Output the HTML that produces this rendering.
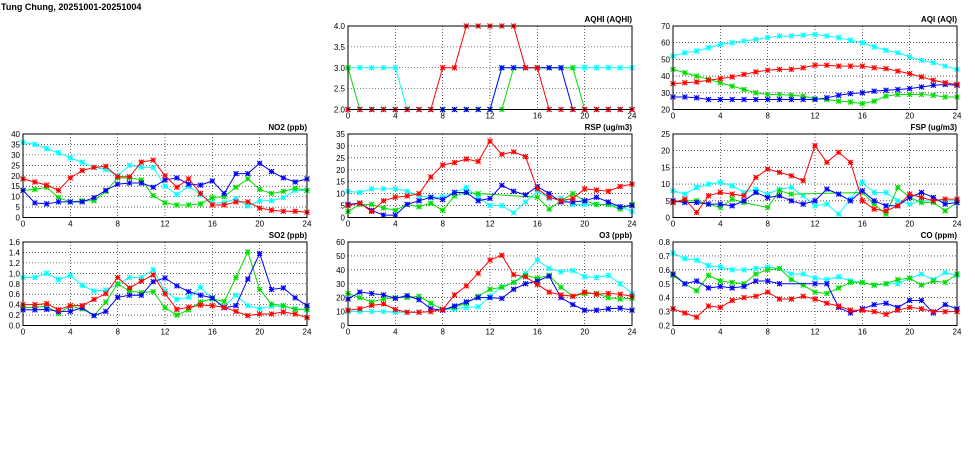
<!DOCTYPE html>
<html><head><meta charset="utf-8"><style>
body{margin:0;background:#fff;width:975px;height:447px;overflow:hidden;font-family:"Liberation Mono",monospace}
svg text{font-family:"Liberation Sans",sans-serif;font-size:8px;fill:#000}
</style></head><body>
<svg id="c" width="975" height="447">
<text x="1" y="10" style="font-size:9px;font-weight:bold">Tung Chung, 20251001-20251004</text>
</svg>
<script>
const xTicks = [0,4,8,12,16,20,24];
const seriesColors = ['#00ffff','#00dd00','#0000ff','#ff0000'];
const panelTitles = ['AQHI (AQHI)','AQI (AQI)','NO2 (ppb)','RSP (ug/m3)','FSP (ug/m3)','SO2 (ppb)','O3 (ppb)','CO (ppm)'];
const yTicksAQHI = ['2.0','2.5','3.0','3.5','4.0'];
const yTicksAQI = ['20','30','40','50','60','70'];
const yTicksNO2 = ['0','5','10','15','20','25','30','35','40'];
const yTicksRSP = ['0','5','10','15','20','25','30','35'];
const yTicksFSP = ['0','5','10','15','20','25'];
const yTicksSO2 = ['0.0','0.2','0.4','0.6','0.8','1.0','1.2','1.4','1.6'];
const yTicksO3 = ['0','10','20','30','40','50','60'];
const yTicksCO = ['0.2','0.3','0.4','0.5','0.6','0.7','0.8'];
// series order: cyan, green, blue, red
const aqhiCyan=[3,3,3,3,3,2,2,2,2,2,2,2,2,3,3,3,3,3,3,3,3,3,3,3,3];
const aqhiGreen=[3,2,2,2,2,2,2,2,2,2,2,2,2,2,3,3,3,3,3,3,2,2,2,2,2];
const aqhiBlue=[2,2,2,2,2,2,2,2,2,2,2,2,2,3,3,3,3,3,3,2,2,2,2,2,2];
const aqhiRed=[2,2,2,2,2,2,2,2,3,3,4,4,4,4,4,3,3,2,2,2,2,2,2,2,2];
const aqiCyan=[52,54,55,57,59,60,61,62,63,64,64,64.5,65,64,63,61.5,60,57.5,55.5,54,51.5,49.5,48,46,44];
const aqiGreen=[44,42,40,38,36,34,32,30,29,29,28.5,28,26.5,26,25,24.5,23.5,25,28,29,29,29,28.5,27.5,27.5];
const aqiBlue=[27.5,27.5,27,26,26,26,26,26,26,26,26,26,26,27,28.5,29.5,30,31,31.5,32,32.5,33.5,34.5,35,34.5];
const aqiRed=[35.5,36,36.5,37.5,38.5,39.5,41,42.5,43.5,44,44,45,46.5,46.5,46,46,46,45,44.5,43,41.5,39.5,37.5,36,35];
const no2Cyan=[36,35,33,31,28.5,26.5,24,23,20,25,24,24,15,11,15,11,7,7,9,5.5,8,8,9.5,13,13];
const no2Green=[13,13.5,14.5,9.5,7.5,8,8,12.5,19,19,18,10.5,7,6,6,6.5,9.5,10,14.5,18.5,13.5,11.5,12.5,14,13];
const no2Blue=[13,7,6.5,7.5,7.5,7.5,9.5,13,16,16.5,16.5,14.5,18,19,16,15.5,17.5,11.5,21,21,26,22,19,17,18.5];
const no2Red=[18.5,17,15.5,13,19,22.5,24,24.5,19.5,19.5,26.5,27.5,20,14.5,18.5,11.5,6,6,7.5,7.5,4.5,3.5,3,3,2.5];
const rspCyan=[11,10.5,12,12,12,11,9,8.5,8.5,10.5,12.5,8.5,5,5,2,6.5,11,8,8,5.5,5.5,5.5,5.5,4.5,2.5];
const rspGreen=[2.5,5.5,5.5,4,3,5.5,4.5,6,3,9,10.5,10,null,null,null,null,8.5,3.5,7,10,7,5.5,5.5,3.5,5.5];
const rspBlue=[5.5,6,3,1,1,5.5,7,8.5,7.5,10.5,10.5,7,8,13.5,11,9.5,13,10,6.5,6.5,7,8.5,6.5,4.5,5];
const rspRed=[5,6,2.5,7,8.5,9,10,17,22,23,24.5,23.5,32,26.5,27.5,25.5,12,8.5,7,8,12,11.5,11,13,14];
const fspCyan=[8,7,9,10,10.5,9.5,7.5,8.5,7,8.5,9,6.5,3.5,4,1,5.5,10.5,7.5,7.5,5,4,5,5,5,5];
const fspGreen=[4.5,5,5,4,3,5.5,4.5,null,3,8,7,null,null,null,null,null,7.5,4,1,9,6,4.5,4.5,2,4.5];
const fspBlue=[5,4.5,4.5,4,4,3.5,5,7.5,6,6.5,5,4,5,8.5,7,5,8,5,3.5,3.5,6,7.5,6,4,4.5];
const fspRed=[4.5,5.5,1.5,6.5,7.5,7,6.5,12,14.5,13.5,12.5,11,21.5,16.5,19.5,16.5,5,2.5,2,3.5,7,6,5,5.5,5.5];
const so2Cyan=[.92,.92,1.0,.88,.96,.77,.66,.68,.79,.92,.92,1.07,.66,.50,.54,.73,.51,.37,.58,.38,.32,.37,.37,.32,.30];
const so2Green=[.34,.35,.37,.23,.37,.32,.19,.45,.80,.66,.63,.65,.34,.20,.30,.45,.51,.46,.92,1.41,.69,.41,.38,.31,.31];
const so2Blue=[.30,.30,.31,.27,.27,.34,.19,.27,.54,.58,.58,.84,.91,.76,.65,.58,.53,.34,.38,.89,1.38,.69,.72,.53,.38];
const so2Red=[.40,.40,.42,.30,.38,.38,.50,.61,.92,.72,.85,.97,.61,.31,.35,.39,.38,.35,.27,.19,.22,.22,.26,.22,.15];
const o3Cyan=[10,10,10,10,9.5,9.5,9.5,10,11.5,12,13,13.5,21,28,31,37.5,47,41,38.5,39.5,35,34.5,36,30,23];
const o3Green=[23,20,17,19,20,20,21,16,11.5,13,16,21,26,27.5,31,36,34,36,27.5,21,23,23,20,19,19.5];
const o3Blue=[19,24,23,22,19.5,21.5,18.5,12,11,14,17,20,20,19.5,26,30,32,35.5,20,15,11,11,12,12.5,11];
const o3Red=[11,12,14.5,15.5,11.5,9.5,9.5,10,11.5,22,28.5,37.5,47,50.5,36.5,35,29.5,24,22,21,24,22.5,23,22.5,21];
const coCyan=[.72,.68,.67,.63,.62,.60,.60,.61,.62,.61,.57,.57,.54,.53,.55,.52,.51,.49,.50,.50,.54,.57,.53,.58,.56];
const coGreen=[.56,.50,.45,.56,.52,.51,.50,.57,.60,.61,.53,.49,.44,.43,.47,.51,.51,.49,.50,.53,.54,.49,.52,.51,.57];
const coBlue=[.57,.50,.52,.47,.48,.47,.48,.52,.52,.50,null,null,.50,.50,.33,.29,.32,.35,.36,.33,.38,.38,.29,.35,.32];
const coRed=[.32,.29,.26,.34,.33,.38,.40,.41,.44,.39,.39,.41,.39,.36,.34,.31,.31,.30,.28,.31,.33,.32,.30,.30,.30];

const NS='http://www.w3.org/2000/svg';
const svg=document.getElementById('c');
function mk(tag,attrs,parent){const e=document.createElementNS(NS,tag);for(const k in attrs)e.setAttribute(k,attrs[k]);(parent||svg).appendChild(e);return e;}
const colX=[348,673,23,348,673,23,348,673];
const rowY=[26,26,134,134,134,242,242,242];
const W=284,H=83.5;
const panels=[
 [yTicksAQHI,[aqhiCyan,aqhiGreen,aqhiBlue,aqhiRed]],
 [yTicksAQI,[aqiCyan,aqiGreen,aqiBlue,aqiRed]],
 [yTicksNO2,[no2Cyan,no2Green,no2Blue,no2Red]],
 [yTicksRSP,[rspCyan,rspGreen,rspBlue,rspRed]],
 [yTicksFSP,[fspCyan,fspGreen,fspBlue,fspRed]],
 [yTicksSO2,[so2Cyan,so2Green,so2Blue,so2Red]],
 [yTicksO3,[o3Cyan,o3Green,o3Blue,o3Red]],
 [yTicksCO,[coCyan,coGreen,coBlue,coRed]]
];
panels.forEach((p,pi)=>{
 const yt=p[0],series=p[1];
 const L=colX[pi],T=rowY[pi];
 const ymin=parseFloat(yt[0]),ymax=parseFloat(yt[yt.length-1]);
 const xs=v=>L+v/24*W;
 const ys=v=>T+H-(v-ymin)/(ymax-ymin)*H;
 const g=mk('g',{});
 
 
 const t=mk('text',{x:L+W,y:T-4,'text-anchor':'end','font-weight':'bold'},g);
 t.textContent=panelTitles[pi];
 
 
 yt.forEach(s=>{const v=parseFloat(s),y=ys(v);
  if(v>ymin&&v<ymax){const l=mk('line',{x1:L,x2:L+W,y1:y,y2:y,stroke:'#000','stroke-width':0.6,'stroke-dasharray':'1,2'},g);}
  const tx=mk('text',{x:L-3,y:y+3,'text-anchor':'end'},g);tx.textContent=s;
  
 });
 xTicks.forEach(v=>{const x=xs(v);
  if(v>0&&v<24){const l=mk('line',{x1:x,x2:x,y1:T,y2:T+H,stroke:'#000','stroke-width':0.6,'stroke-dasharray':'1,2'},g);}
  const tx=mk('text',{x:x,y:T+H+9,'text-anchor':'middle'},g);tx.textContent=v;
  
 });
 series.forEach((arr,si)=>{
  const col=seriesColors[si];
  const pts=[];arr.forEach((v,i)=>{if(v!==null)pts.push([xs(i),ys(v)]);});
  const pl=mk('polyline',{points:pts.map(q=>q.join(',')).join(' '),fill:'none',stroke:col,'stroke-width':1},g);
  
  
  pts.forEach(q=>{const [x,y]=q,r=2.5;
   const m=mk('path',{d:`M${x-r},${y}H${x+r}M${x},${y-r}V${y+r}M${x-r},${y-r}L${x+r},${y+r}M${x-r},${y+r}L${x+r},${y-r}`,stroke:col,'stroke-width':1.1},g);
   
   
  });
 });
 const fr=mk('rect',{x:L,y:T,width:W,height:H,fill:'none',stroke:'#000','stroke-width':1},g);
 
 
});
</script>
</body></html>
